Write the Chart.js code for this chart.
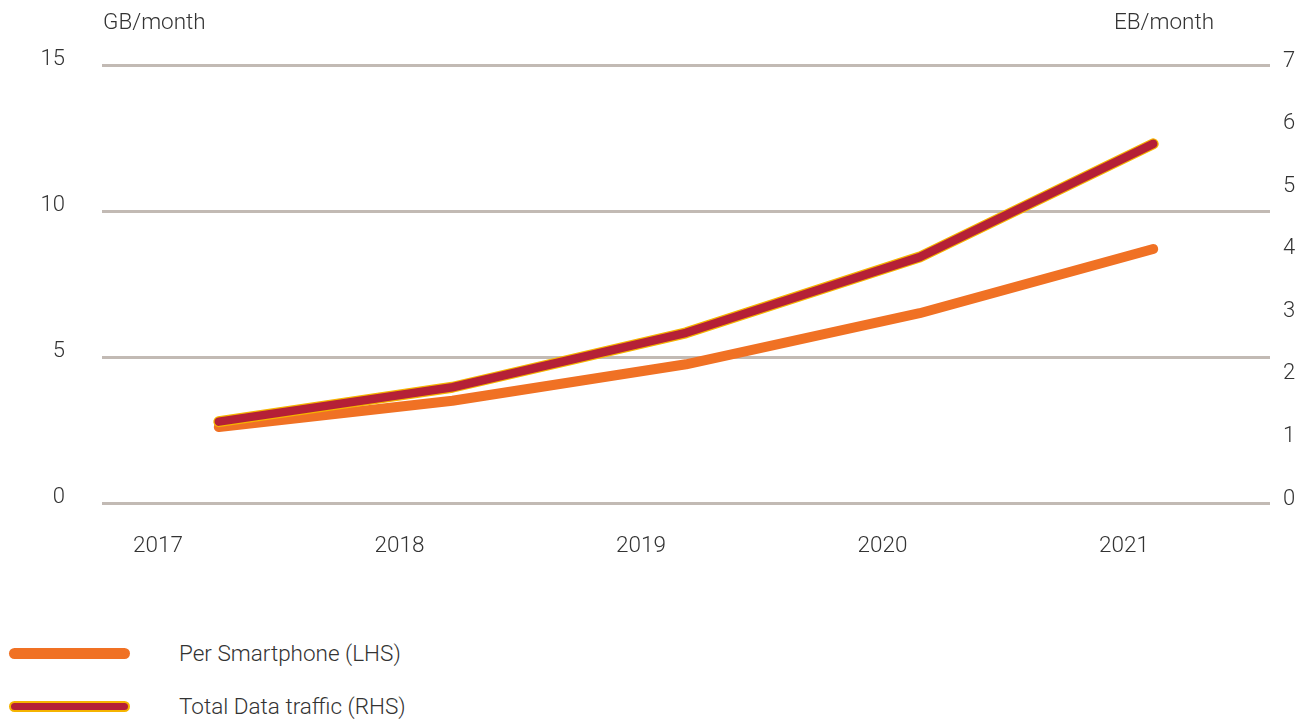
<!DOCTYPE html>
<html>
<head>
<meta charset="utf-8">
<script src="https://cdn.jsdelivr.net/npm/chart.js"></script>
<style>
  body { margin: 0; background: #fff; font-family: Roboto, "Liberation Sans", sans-serif; font-weight: 300; color: #333; }
  #wrap { position: relative; width: 1307px; height: 719px; }
  .leg { position: absolute; left: 0; font-size: 22.5px; }
  .sw { position: absolute; left: 9px; width: 121px; height: 11px; border-radius: 6px; box-sizing: border-box; }
  .lab { position: absolute; left: 179px; white-space: nowrap; }
</style>
</head>
<body>
<div id="wrap">
  <canvas id="trafficChart" width="1307" height="600"></canvas>
  <div class="leg" style="top:642px">
    <div class="sw" style="top:6px;background:#F07124"></div>
    <div class="lab" style="top:-2px">Per Smartphone (LHS)</div>
  </div>
  <div class="leg" style="top:695px">
    <div class="sw" style="top:6px;background:#B52036;border:2px solid #F5B400"></div>
    <div class="lab" style="top:-2px">Total Data traffic (RHS)</div>
  </div>
</div>
<script>
// data
const years = ["2017", "2018", "2019", "2020", "2021"];
const perSmartphone = [2.6, 3.5, 4.75, 6.5, 8.7];     // GB/month, left axis
const totalTraffic = [1.3, 1.85, 2.72, 3.93, 5.74];   // EB/month, right axis
const leftTicks = [0, 5, 10, 15];
const rightTicks = [0, 1, 2, 3, 4, 5, 6, 7];

const textColor = "#333";
const tickFont = { family: "Roboto, 'Liberation Sans', sans-serif", size: 22, weight: 300 };

// axis unit titles above the plot
const unitTitles = {
    id: "unitTitles",
    afterDraw(chart) {
        const c = chart.ctx;
        c.save();
        c.font = "300 22.5px Roboto, 'Liberation Sans', sans-serif";
        c.fillStyle = textColor;
        c.textBaseline = "middle";
        c.textAlign = "left";
        c.fillText("GB/month", chart.chartArea.left + 1, 23);
        c.textAlign = "right";
        c.fillText("EB/month", chart.chartArea.right - 56, 23);
        c.restore();
    }
};

const lineStyle = {
    pointRadius: 0,
    pointHoverRadius: 0,
    borderCapStyle: "round",
    borderJoinStyle: "round",
    tension: 0,
    fill: false
};

const ctx = document.getElementById("trafficChart").getContext("2d");
new Chart(ctx, {
    type: "line",
    data: {
        labels: years,
        datasets: [
            Object.assign({ label: "Total Data traffic (RHS)", data: totalTraffic, yAxisID: "y2",
                borderColor: "#B52036", borderWidth: 8.5, order: 1 }, lineStyle),
            Object.assign({ label: "outline", data: totalTraffic, yAxisID: "y2",
                borderColor: "#F5B400", borderWidth: 11, order: 2 }, lineStyle),
            Object.assign({ label: "Per Smartphone (LHS)", data: perSmartphone, yAxisID: "y",
                borderColor: "#F07124", borderWidth: 10, order: 3 }, lineStyle)
        ]
    },
    options: {
        responsive: false,
        animation: false,
        layout: { padding: { top: 65, left: 0, right: 0, bottom: 0 } },
        plugins: { legend: { display: false }, tooltip: { enabled: false } },
        scales: {
            x: {
                display: false,
                offset: true
            },
            xl: {
                type: "linear",
                position: "bottom",
                min: 2016.768,
                max: 2021.605,
                afterBuildTicks: (s) => { s.ticks = years.map(v => ({ value: Number(v) })); },
                afterFit: (s) => { s.height = 97; },
                grid: { display: false, drawTicks: false },
                border: { display: false },
                ticks: {
                    padding: 30,
                    color: textColor,
                    font: { family: tickFont.family, size: 22.5, weight: 300 },
                    callback: (v) => String(v),
                    maxRotation: 0,
                    autoSkip: false
                }
            },
            y: {
                position: "left",
                min: 0,
                max: 15,
                afterBuildTicks: (s) => { s.ticks = leftTicks.map(v => ({ value: v })); },
                afterFit: (s) => { s.width = 102; },
                grid: { color: "#C2BAB4", lineWidth: 3, drawTicks: false },
                border: { display: false },
                ticks: { padding: 37, color: textColor, font: tickFont, labelOffset: -6 }
            },
            y2: {
                position: "right",
                min: 0,
                max: 7,
                afterBuildTicks: (s) => { s.ticks = rightTicks.map(v => ({ value: v })); },
                afterFit: (s) => { s.width = 37; },
                grid: { display: false, drawTicks: false },
                border: { display: false },
                ticks: { padding: 13, color: textColor, font: tickFont, labelOffset: -4 }
            }
        }
    },
    plugins: [unitTitles]
});
</script>
</body>
</html>
